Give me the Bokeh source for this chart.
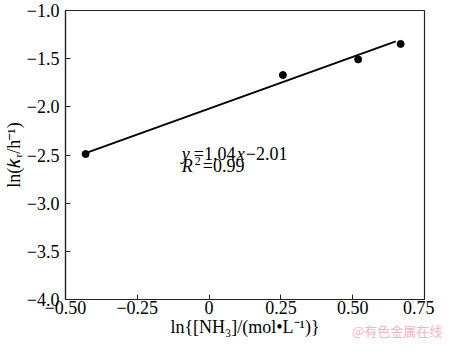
from bokeh.plotting import figure
from bokeh.models import FixedTicker, Label, Range1d, Div
from bokeh.layouts import column
from bokeh.embed import file_html
from bokeh.resources import INLINE

# data
x_vals = [-0.43, 0.257, 0.519, 0.667]
y_vals = [-2.49, -1.67, -1.508, -1.347]
fit_x = [-0.43, 0.65]
fit_y = [-2.48, -1.32]

x_ticks = [-0.50, -0.25, 0.0, 0.25, 0.50, 0.75]
x_tick_labels = ["\u22120.50", "\u22120.25", "0", "0.25", "0.50", "0.75"]
y_ticks = [-4.0, -3.5, -3.0, -2.5, -2.0, -1.5, -1.0]
y_tick_labels = ["\u22124.0", "\u22123.5", "\u22123.0", "\u22122.5", "\u22122.0", "\u22121.5", "\u22121.0"]

FONT = "Liberation Serif"

p = figure(width=434, height=339, output_backend="svg", toolbar_location=None,
           x_range=Range1d(-0.5, 0.75), y_range=Range1d(-4.0, -1.0),
           min_border_left=10, min_border_right=10, min_border_top=10, min_border_bottom=4)
p.grid.visible = False
p.outline_line_color = "#222222"
p.outline_line_width = 1.2
p.background_fill_color = "white"
p.border_fill_color = "white"

for ax in (p.xaxis[0], p.yaxis[0]):
    ax.major_tick_in = 5
    ax.major_tick_out = 0
    ax.minor_tick_line_color = None
    ax.axis_line_color = "#222222"
    ax.axis_line_width = 1.2
    ax.major_tick_line_color = "#222222"
    ax.major_label_text_font = FONT
    ax.major_label_text_font_size = "18px"
    ax.major_label_text_color = "black"
    ax.axis_label_text_font = FONT
    ax.axis_label_text_font_size = "18px"
    ax.axis_label_text_font_style = "normal"
    ax.axis_label_text_color = "black"

p.xaxis[0].ticker = FixedTicker(ticks=x_ticks)
p.xaxis[0].major_label_overrides = {t: l for t, l in zip(x_ticks, x_tick_labels)}
p.yaxis[0].ticker = FixedTicker(ticks=y_ticks)
p.yaxis[0].major_label_overrides = {t: l for t, l in zip(y_ticks, y_tick_labels)}
p.xaxis[0].major_label_standoff = 1
p.yaxis[0].major_label_standoff = 6
p.xaxis[0].axis_label = "ln{[NH\u2083]/(mol\u2022L\u207b\u00b9)}"
p.yaxis[0].axis_label = "ln(\U0001d458\u1d63/h\u207b\u00b9)"
p.xaxis[0].axis_label_standoff = 0
p.yaxis[0].axis_label_standoff = 0

p.line(fit_x, fit_y, line_color="black", line_width=2)
p.scatter(x_vals, y_vals, size=7, color="black")

# equation annotation, composed of pieces (italic variables)
ax0, ay1, ay2 = -0.095, -2.485, -2.61
pieces1 = [("y", "italic", 0), ("=1.04", "normal", 12), ("x", "italic", 55), ("\u22122.01", "normal", 64)]
for txt, style, off in pieces1:
    p.add_layout(Label(x=ax0, y=ay1, x_offset=off, text=txt, text_font=FONT,
                       text_font_style=style, text_font_size="18px", text_color="black",
                       text_baseline="middle"))
p.add_layout(Label(x=ax0, y=ay2, x_offset=0, text="R", text_font=FONT,
                   text_font_style="italic", text_font_size="18px", text_color="black",
                   text_baseline="middle"))
p.add_layout(Label(x=ax0, y=ay2, x_offset=13, y_offset=5, text="2", text_font=FONT,
                   text_font_size="12px", text_color="black", text_baseline="middle"))
p.add_layout(Label(x=ax0, y=ay2, x_offset=21, text="=0.99", text_font=FONT,
                   text_font_size="18px", text_color="black", text_baseline="middle"))

# watermark, pulled up into the row of the x-axis label
wm = Div(text="@有色金属在线", width=90, height=18, margin=(-17, 0, 0, 352),
         styles={"color": "#f4b4bc", "font-family": "'Noto Sans CJK SC'",
                 "font-size": "13px", "line-height": "18px", "white-space": "nowrap"})

layout = column(p, wm, spacing=0)

open("out.html", "w").write(file_html(layout, INLINE))
